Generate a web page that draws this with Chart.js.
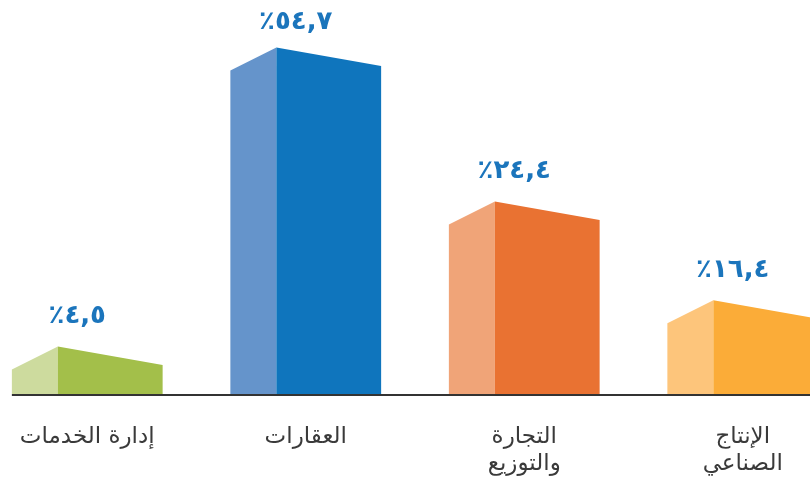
<!DOCTYPE html>
<html lang="ar">
<head>
<meta charset="utf-8">
<script src="https://cdn.jsdelivr.net/npm/chart.js@4"></script>
<style>
  html, body { margin: 0; padding: 0; background: #fff; overflow: hidden; }
  #wrap { position: absolute; left: -22px; top: 0; width: 874px; height: 477px; }
</style>
</head>
<body>
<div id="wrap"><canvas id="sectors"></canvas></div>
<script>
/* sector shares */
const categories = ["إدارة الخدمات", "العقارات", ["التجارة", "والتوزيع"], ["الإنتاج", "الصناعي"]];
const shares = [4.5, 54.7, 24.4, 16.4];
// bar heights as drawn in the artwork (it is not to scale), same units
const drawnHeights = [7.5, 54.7, 30.4, 14.8];
const lightColors = ["#cddb9e", "#6594cb", "#f0a478", "#fdc57b"];
const darkColors = ["#a3bf4a", "#0f75bd", "#e97232", "#fbac38"];

const arabicDigits = "٠١٢٣٤٥٦٧٨٩";
function toArabic(v) {
    return "٪" + v.toFixed(1).replace(/\d/g, d => arabicDigits[d]).replace(".", ",");
}

const prismBars = {
    id: "prismBars",
    afterDatasetsDraw(chart) {
        const ctx = chart.ctx;
        const meta = chart.getDatasetMeta(0);
        const base = chart.scales.y.getPixelForValue(0);
        ctx.save();
        meta.data.forEach((bar, i) => {
            const left = bar.x - bar.width / 2;
            const right = bar.x + bar.width / 2;
            const split = left + bar.width * 0.305;
            const peak = bar.y;
            // light left face
            ctx.fillStyle = lightColors[i];
            ctx.beginPath();
            ctx.moveTo(left, base);
            ctx.lineTo(left, peak + 23);
            ctx.lineTo(split, peak);
            ctx.lineTo(split, base);
            ctx.closePath();
            ctx.fill();
            // dark right face
            ctx.fillStyle = darkColors[i];
            ctx.beginPath();
            ctx.moveTo(split, base);
            ctx.lineTo(split, peak);
            ctx.lineTo(right, peak + 18.5);
            ctx.lineTo(right, base);
            ctx.closePath();
            ctx.fill();
            // value label, kept clear of the top edge
            ctx.fillStyle = "#1b75bc";
            ctx.font = "bold 26px 'DejaVu Sans'";
            ctx.textAlign = "center";
            ctx.textBaseline = "middle";
            ctx.fillText(toArabic(shares[i]), bar.x - 10, Math.max(peak - 30, 22));
        });
        // baseline
        const first = meta.data[0];
        ctx.strokeStyle = "#333333";
        ctx.lineWidth = 2;
        ctx.beginPath();
        ctx.moveTo(first.x - first.width / 2, base + 1);
        ctx.lineTo(chart.chartArea.right, base + 1);
        ctx.stroke();
        ctx.restore();
    }
};

new Chart(document.getElementById("sectors"), {
    type: "bar",
    data: {
        labels: categories,
        datasets: [
            {
                data: drawnHeights,
                backgroundColor: "rgba(0,0,0,0)",
                borderWidth: 0,
            },
        ],
    },
    options: {
        responsive: true,
        maintainAspectRatio: false,
        animation: false,
        barPercentage: 0.69,
        categoryPercentage: 1,
        layout: {
            padding: { top: 14, bottom: -23, left: 0, right: 0 },
        },
        plugins: {
            legend: { display: false },
            tooltip: { enabled: false },
        },
        scales: {
            x: {
                grid: { display: false },
                border: { display: false },
                ticks: {
                    color: "#3a3a3a",
                    padding: 22,
                    font: { family: "'DejaVu Sans'", size: 23, lineHeight: "27px" },
                },
            },
            y: {
                display: false,
                min: 0,
                max: 60,
            },
        },
    },
    plugins: [prismBars],
});
</script>
</body>
</html>
